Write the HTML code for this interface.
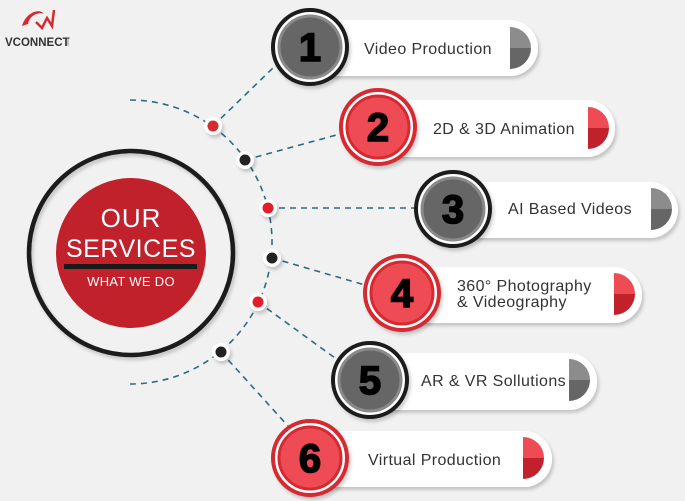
<!DOCTYPE html>
<html><head><meta charset="utf-8"><style>
html,body{margin:0;padding:0;background:#f1f1f1;}
svg{display:block}
text{font-family:"Liberation Sans",sans-serif;}
.lbl{font-size:16px;fill:#333;letter-spacing:0.4px}
.num{font-size:40px;font-weight:900;fill:#000;stroke:#000;stroke-width:1.6px;text-anchor:middle}
</style></head><body>
<svg width="685" height="501" viewBox="0 0 685 501" xmlns="http://www.w3.org/2000/svg">
<defs>
<filter id="sh" x="-20%" y="-20%" width="140%" height="160%"><feDropShadow dx="2" dy="3" stdDeviation="1.5" flood-color="#000" flood-opacity="0.18"/></filter>
</defs>
<rect width="685" height="501" fill="#f1f1f1"/>
<!-- logo -->
<path d="M22 26 C26 12 40 8 44 14 C40 12 30 14 28 24 Z" fill="#d42a30"/>
<path d="M36 22 L42 28 L47 18 L52 26 L54 10" fill="none" stroke="#d42a30" stroke-width="2.5"/>
<text x="5" y="46" font-size="11.5" font-weight="bold" fill="#333">VCONNECT</text>
<line x1="68" y1="38" x2="68" y2="46" stroke="#999" stroke-width="1"/>
<!-- dashed arc -->
<g fill="none" stroke="#2d6b80" stroke-width="1.6" stroke-dasharray="6,5">
<path d="M130 100 A142 142 0 0 1 130 384"/>
<line x1="213" y1="126" x2="274" y2="67"/>
<line x1="245" y1="160" x2="340" y2="134"/>
<line x1="268" y1="208" x2="414" y2="208"/>
<line x1="272" y1="258" x2="365" y2="285"/>
<line x1="258" y1="302" x2="335" y2="358"/>
<line x1="221" y1="352" x2="288" y2="426"/>
</g>
<!-- dots -->
<g filter="url(#sh)">
<circle cx="213" cy="126" r="9" fill="#fff"/><circle cx="245" cy="160" r="9" fill="#fff"/>
<circle cx="268" cy="208" r="9" fill="#fff"/><circle cx="272" cy="258" r="9" fill="#fff"/>
<circle cx="258" cy="302" r="9" fill="#fff"/><circle cx="221" cy="352" r="9" fill="#fff"/>
</g>
<circle cx="213" cy="126" r="5.5" fill="#d42a30"/><circle cx="245" cy="160" r="5.5" fill="#222"/>
<circle cx="268" cy="208" r="5.5" fill="#e31e2a"/><circle cx="272" cy="258" r="5.5" fill="#222"/>
<circle cx="258" cy="302" r="5.5" fill="#e31e2a"/><circle cx="221" cy="352" r="5.5" fill="#222"/>
<!-- center -->
<circle cx="131" cy="253" r="102" fill="none" stroke="#1a1a1a" stroke-width="4.5" filter="url(#sh)"/>
<circle cx="131" cy="253" r="75" fill="#c1212b"/>
<text x="131" y="227" font-size="26" fill="#fff" text-anchor="middle" letter-spacing="1">OUR</text>
<text x="131" y="257" font-size="25" fill="#fff" text-anchor="middle" letter-spacing="0.5">SERVICES</text>
<rect x="64" y="264" width="133" height="5" fill="#1a1a1a"/>
<text x="131" y="286" font-size="13" fill="#fff" text-anchor="middle" letter-spacing="0.3">WHAT WE DO</text>
<!-- 1 -->
<rect x="300" y="20" width="238" height="56" rx="28" fill="#fff" filter="url(#sh)"/>
<path d="M510 27 A21 21 0 0 1 531 48 L510 48 Z" fill="#8c8c8c"/><path d="M510 48 L531 48 A21 21 0 0 1 510 69 Z" fill="#666"/>
<text x="364" y="54" class="lbl">Video Production</text>
<circle cx="310" cy="47" r="37" fill="#fff" stroke="#1a1a1a" stroke-width="4" filter="url(#sh)"/>
<circle cx="310" cy="47" r="31" fill="#666" stroke="#8a8a8a" stroke-width="3"/>
<text x="310" y="61" class="num">1</text>
<!-- 2 -->
<rect x="368" y="100" width="247" height="57" rx="28" fill="#fff" filter="url(#sh)"/>
<path d="M588 107 A21 21 0 0 1 609 128 L588 128 Z" fill="#ee4b55"/><path d="M588 128 L609 128 A21 21 0 0 1 588 149 Z" fill="#c1212b"/>
<text x="433" y="134" class="lbl">2D &amp; 3D Animation</text>
<circle cx="378" cy="127" r="37" fill="#fff" stroke="#d62930" stroke-width="4" filter="url(#sh)"/>
<circle cx="378" cy="127" r="31" fill="#ee4b55" stroke="#d62930" stroke-width="3"/>
<text x="378" y="141" class="num">2</text>
<!-- 3 -->
<rect x="442" y="182" width="236" height="56" rx="28" fill="#fff" filter="url(#sh)"/>
<path d="M651 188 A21 21 0 0 1 672 209 L651 209 Z" fill="#8c8c8c"/><path d="M651 209 L672 209 A21 21 0 0 1 651 230 Z" fill="#666"/>
<text x="508" y="214" class="lbl">AI Based Videos</text>
<circle cx="453" cy="209" r="37" fill="#fff" stroke="#1a1a1a" stroke-width="4" filter="url(#sh)"/>
<circle cx="453" cy="209" r="31" fill="#666" stroke="#8a8a8a" stroke-width="3"/>
<text x="453" y="223" class="num">3</text>
<!-- 4 -->
<rect x="392" y="267" width="250" height="56" rx="28" fill="#fff" filter="url(#sh)"/>
<path d="M614 273 A21 21 0 0 1 635 294 L614 294 Z" fill="#ee4b55"/><path d="M614 294 L635 294 A21 21 0 0 1 614 315 Z" fill="#c1212b"/>
<text x="457" y="291" class="lbl">360° Photography</text>
<text x="457" y="307" class="lbl">&amp; Videography</text>
<circle cx="402" cy="293" r="37" fill="#fff" stroke="#d62930" stroke-width="4" filter="url(#sh)"/>
<circle cx="402" cy="293" r="31" fill="#ee4b55" stroke="#d62930" stroke-width="3"/>
<text x="402" y="307" class="num">4</text>
<!-- 5 -->
<rect x="360" y="353" width="237" height="57" rx="28" fill="#fff" filter="url(#sh)"/>
<path d="M569 359 A21 21 0 0 1 590 380 L569 380 Z" fill="#8c8c8c"/><path d="M569 380 L590 380 A21 21 0 0 1 569 401 Z" fill="#666"/>
<text x="421" y="386" class="lbl">AR &amp; VR Sollutions</text>
<circle cx="370" cy="380" r="37" fill="#fff" stroke="#1a1a1a" stroke-width="4" filter="url(#sh)"/>
<circle cx="370" cy="380" r="31" fill="#666" stroke="#8a8a8a" stroke-width="3"/>
<text x="370" y="394" class="num">5</text>
<!-- 6 -->
<rect x="300" y="431" width="252" height="56" rx="28" fill="#fff" filter="url(#sh)"/>
<path d="M523 437 A21 21 0 0 1 544 458 L523 458 Z" fill="#ee4b55"/><path d="M523 458 L544 458 A21 21 0 0 1 523 479 Z" fill="#c1212b"/>
<text x="368" y="465" class="lbl">Virtual Production</text>
<circle cx="310" cy="458" r="37" fill="#fff" stroke="#d62930" stroke-width="4" filter="url(#sh)"/>
<circle cx="310" cy="458" r="31" fill="#ee4b55" stroke="#d62930" stroke-width="3"/>
<text x="310" y="472" class="num">6</text>
</svg>
</body></html>
